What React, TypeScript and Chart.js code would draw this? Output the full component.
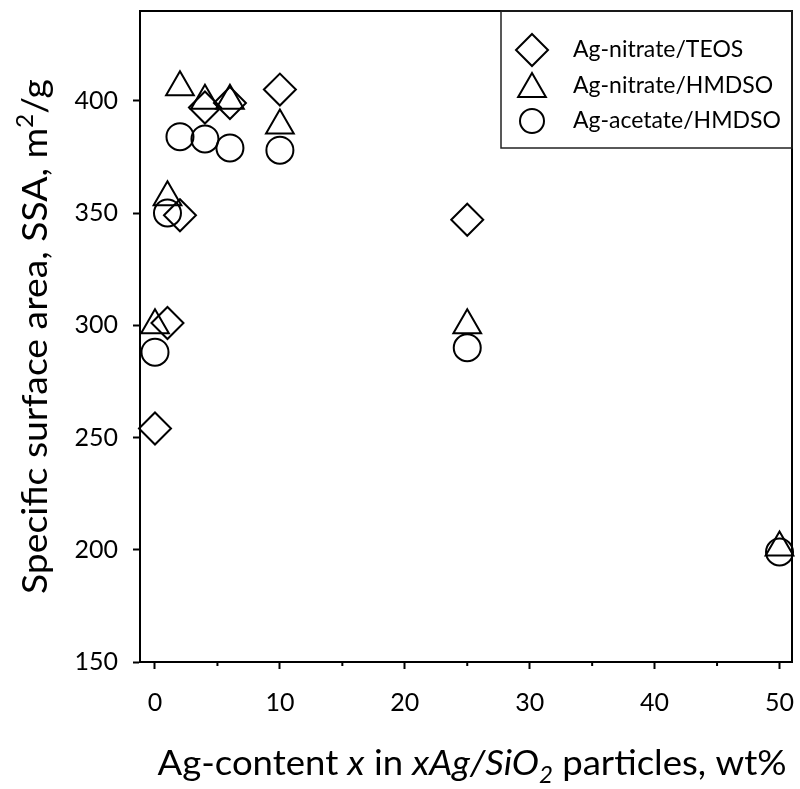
import React, { useEffect, useRef } from 'react';
import { Chart, registerables } from 'chart.js';

Chart.register(...registerables);

// ---- data ----
const teosX = [0, 1, 2, 4, 6, 10, 25];
const teosSSA = [254, 301, 349, 397, 399, 405, 347];
const nitrateHmdsoX = [0, 1, 2, 4, 6, 10, 25, 50];
const nitrateHmdsoSSA = [300, 357, 406, 400, 400, 389, 300, 201];
const acetateHmdsoX = [0, 1, 2, 4, 6, 10, 25, 50];
const acetateHmdsoSSA = [288, 350, 384, 383, 379, 378, 290, 199];
const seriesLabels = ['Ag-nitrate/TEOS', 'Ag-nitrate/HMDSO', 'Ag-acetate/HMDSO'];
const seriesStyles = ['rectRot', 'triangle', 'circle'];
const xTickValues = [0, 5, 10, 15, 20, 25, 30, 35, 40, 45, 50];
const xLabelValues = [0, 10, 20, 30, 40, 50];
const yTickValues = [150, 200, 250, 300, 350, 400];

const FONT = 'Lato';

type Seg = { t: string; it?: boolean; sup?: boolean; sub?: boolean };

const xTitle: Seg[] = [
  { t: 'Ag-content ' },
  { t: 'x', it: true },
  { t: ' in ' },
  { t: 'xAg/SiO', it: true },
  { t: '2', it: true, sub: true },
  { t: ' particles, wt%' },
];
const yTitle: Seg[] = [
  { t: 'Specific surface area, SSA, m' },
  { t: '2', sup: true },
  { t: '/g' },
];

function drawRich(ctx: CanvasRenderingContext2D, segs: Seg[], size: number, targetW: number) {
  const fontFor = (s: Seg) =>
    `${s.it ? 'italic ' : ''}${s.sup || s.sub ? Math.round(size * 0.65) : size}px ${FONT}`;
  const widths: number[] = [];
  let w = 0;
  for (const s of segs) {
    ctx.font = fontFor(s);
    const mw = ctx.measureText(s.t).width;
    widths.push(mw);
    w += mw;
  }
  let sx = targetW / w;
  sx = Math.max(0.85, Math.min(1.15, sx));
  ctx.save();
  ctx.scale(sx, 1);
  let x = -w / 2;
  ctx.fillStyle = '#000';
  ctx.textBaseline = 'alphabetic';
  ctx.textAlign = 'left';
  segs.forEach((s, i) => {
    ctx.font = fontFor(s);
    const dy = s.sup ? -size * 0.4 : s.sub ? size * 0.22 : 0;
    ctx.fillText(s.t, x, dy);
    x += widths[i];
  });
  ctx.restore();
}

function drawMarker(ctx: CanvasRenderingContext2D, style: string, r: number, x: number, y: number) {
  ctx.beginPath();
  if (style === 'rectRot') {
    ctx.moveTo(x, y - r);
    ctx.lineTo(x + r, y);
    ctx.lineTo(x, y + r);
    ctx.lineTo(x - r, y);
    ctx.closePath();
  } else if (style === 'triangle') {
    ctx.moveTo(x, y - r);
    ctx.lineTo(x + r * 0.866, y + r * 0.5);
    ctx.lineTo(x - r * 0.866, y + r * 0.5);
    ctx.closePath();
  } else {
    ctx.arc(x, y, r, 0, Math.PI * 2);
  }
  ctx.stroke();
}

const decorPlugin = {
  id: 'decor',
  afterDraw(chart: any) {
    const ctx: CanvasRenderingContext2D = chart.ctx;
    const a = chart.chartArea;
    // frame
    ctx.save();
    ctx.strokeStyle = '#000';
    ctx.lineWidth = 2;
    ctx.strokeRect(a.left, a.top, a.right - a.left, a.bottom - a.top);
    // minor x ticks (shorter)
    const xs = chart.scales.x;
    xTickValues.forEach((v) => {
      if (xLabelValues.includes(v)) return;
      const px = xs.getPixelForValue(v);
      ctx.beginPath();
      ctx.moveTo(px, a.bottom);
      ctx.lineTo(px, a.bottom + 4);
      ctx.stroke();
    });
    ctx.restore();

    // legend box
    const lx = 501, ly = a.top, lw = a.right - 501, lh = 137;
    ctx.save();
    ctx.strokeStyle = '#222';
    ctx.lineWidth = 1.5;
    ctx.strokeRect(lx, ly, lw, lh);
    const rows = [50, 86, 121];
    chart.data.datasets.forEach((ds: any, i: number) => {
      ctx.strokeStyle = '#000';
      ctx.lineWidth = 2;
      drawMarker(ctx, ds.pointStyle, i === 2 ? 12 : ds.pointRadius, 532, rows[i] + (i === 1 ? 3 : 0));
      ctx.fillStyle = '#000';
      ctx.font = `23px ${FONT}`;
      ctx.textBaseline = 'middle';
      ctx.textAlign = 'left';
      ctx.fillText(ds.label, 573, rows[i]);
    });
    ctx.restore();

    // x title
    ctx.save();
    ctx.translate(472, 775);
    drawRich(ctx, xTitle, 35, 629);
    ctx.restore();

    // y title
    ctx.save();
    ctx.translate(47, (a.top + a.bottom) / 2);
    ctx.rotate(-Math.PI / 2);
    drawRich(ctx, yTitle, 35, 515);
    ctx.restore();
  },
};

const zeroPad = (scale: any) => {
  scale.paddingTop = 0;
  scale.paddingBottom = 0;
  scale.paddingLeft = 0;
  scale.paddingRight = 0;
};

export default function App() {
  const ref = useRef<HTMLCanvasElement | null>(null);

  useEffect(() => {
    let chart: Chart | null = null;
    let cancelled = false;
    const make = () => {
      if (cancelled || !ref.current) return;
      const mk = (xs: number[], ys: number[], i: number, r: number) => ({
        label: seriesLabels[i],
        data: xs.map((x, k) => ({ x, y: ys[k] })),
        pointStyle: seriesStyles[i],
        pointRadius: r,
        pointHoverRadius: r,
        pointBorderWidth: 2,
        pointBorderColor: '#000',
        pointBackgroundColor: 'rgba(0,0,0,0)',
        borderColor: '#000',
        backgroundColor: 'rgba(0,0,0,0)',
        showLine: false,
        clip: false as any,
      });
      chart = new Chart(ref.current, {
        type: 'scatter',
        data: {
          datasets: [
            mk(teosX, teosSSA, 0, 16),
            mk(nitrateHmdsoX, nitrateHmdsoSSA, 1, 16),
            mk(acetateHmdsoX, acetateHmdsoSSA, 2, 13.5),
          ] as any,
        },
        options: {
          responsive: false,
          animation: false,
          events: [],
          layout: { autoPadding: false, padding: { top: 11, right: 8, left: 0, bottom: 0 } },
          plugins: {
            legend: { display: false },
            tooltip: { enabled: false },
            title: { display: false },
          },
          scales: {
            x: {
              type: 'linear',
              min: -1.2,
              max: 51,
              afterBuildTicks: (axis: any) => {
                axis.ticks = xTickValues.map((v) => ({ value: v }));
              },
              afterFit: (scale: any) => {
                scale.height = 127;
                zeroPad(scale);
              },
              ticks: {
                autoSkip: false,
                maxRotation: 0,
                padding: 19,
                color: '#000',
                font: { family: FONT, size: 25 },
                callback: (v: any) => (xLabelValues.includes(Number(v)) ? String(v) : ''),
              },
              grid: {
                display: true,
                drawOnChartArea: false,
                drawTicks: true,
                tickLength: 7,
                tickWidth: 2,
                tickColor: (c: any) =>
                  c.tick && xLabelValues.includes(c.tick.value) ? '#000' : 'rgba(0,0,0,0)',
              },
              border: { display: true, color: '#000', width: 2 },
            },
            y: {
              type: 'linear',
              min: 150,
              max: 440,
              afterBuildTicks: (axis: any) => {
                axis.ticks = yTickValues.map((v) => ({ value: v }));
              },
              afterFit: (scale: any) => {
                scale.width = 140;
                zeroPad(scale);
              },
              ticks: {
                autoSkip: false,
                padding: 15,
                color: '#000',
                font: { family: FONT, size: 25 },
              },
              grid: {
                display: true,
                drawOnChartArea: false,
                drawTicks: true,
                tickLength: 7,
                tickWidth: 2,
                tickColor: '#000',
              },
              border: { display: true, color: '#000', width: 2 },
            },
          },
        },
        plugins: [decorPlugin],
      } as any);
    };
    const fonts: any = (document as any).fonts;
    if (fonts && fonts.load) {
      Promise.all([
        fonts.load(`25px ${FONT}`),
        fonts.load(`italic 35px ${FONT}`),
      ])
        .catch(() => null)
        .then(make);
    } else {
      make();
    }
    return () => {
      cancelled = true;
      if (chart) chart.destroy();
    };
  }, []);

  return (
    <div style={{ position: 'absolute', left: 0, top: 0, width: 800, height: 789, background: '#fff' }}>
      <canvas ref={ref} width={800} height={789} style={{ width: 800, height: 789, display: 'block' }} />
    </div>
  );
}
